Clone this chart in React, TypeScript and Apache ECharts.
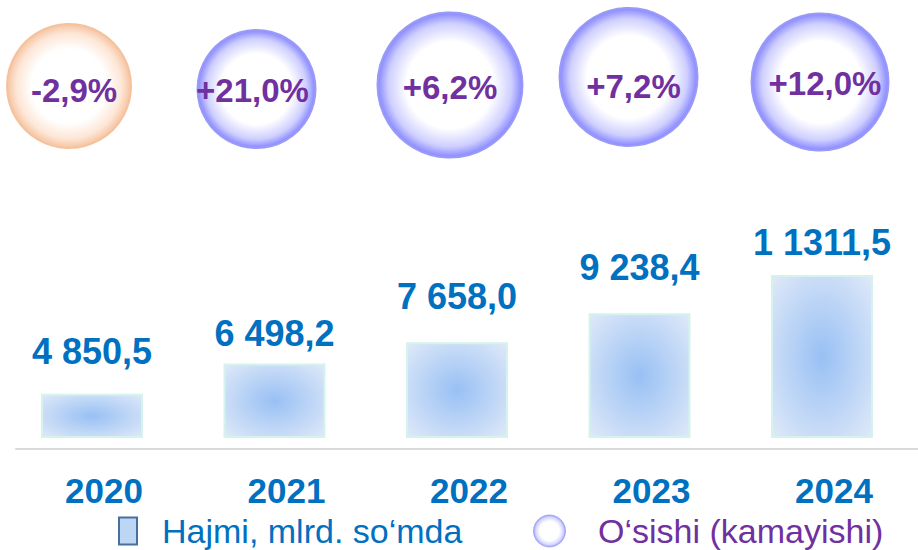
import React, { useEffect, useRef } from "react";
import * as echarts from "echarts";

const years = ["2020", "2021", "2022", "2023", "2024"];
const volumes = [4850.5, 6498.2, 7658.0, 9238.4, 11311.5];
const volumeLabels = ["4 850,5", "6 498,2", "7 658,0", "9 238,4", "1 1311,5"];
const growth = [-2.9, 21.0, 6.2, 7.2, 12.0];

const volumeName = "Hajmi, mlrd. so‘mda";
const growthName = "O‘sishi (kamayishi)";

// styling only
const bubbleSizes = [124, 118, 145, 138, 137];
const bubbleOffsets = [[-23, 1], [-18, 4], [-7, 0], [-11, -8], [-2, -3]];
const bubbleTextShift = [[5, 4], [-4, 1], [0, 2], [5, 9], [5, 1]];
const barLabelGaps = [24, 12, 28, 28, 15];

const FONT = "'Liberation Sans', Arial, sans-serif";
const BLUE = "#0070C0";
const PURPLE = "#7030A0";

function bubbleFill(neg: boolean) {
  const edge = neg ? "#f6c3a0" : "#8787ff";
  const mid = neg ? "#fde6d6" : "#cfcfff";
  return new echarts.graphic.RadialGradient(0.5, 0.5, 0.5, [
    { offset: 0, color: "#ffffff" },
    { offset: 0.6, color: "#ffffff" },
    { offset: 0.85, color: mid },
    { offset: 1, color: edge },
  ]);
}

export default function App() {
  const ref = useRef<HTMLDivElement>(null);
  useEffect(() => {
    if (!ref.current) return;
    const chart = echarts.init(ref.current, undefined, { renderer: "svg" });
    const barFill = new echarts.graphic.RadialGradient(0.5, 0.5, 0.7, [
      { offset: 0, color: "#98c0f4" },
      { offset: 1, color: "#dfe9f8" },
    ]);
    chart.setOption({
      animation: false,
      backgroundColor: "#ffffff",
      textStyle: { fontFamily: FONT },
      grid: [
        { left: 0.75, right: 4.75, top: 200, bottom: 113 },
        { left: 0.75, right: 4.75, top: 0, height: 170 },
        { left: 16, right: 0, top: 300, bottom: 101 },
      ],
      xAxis: [
        {
          type: "category",
          gridIndex: 0,
          data: years,
          axisLine: { show: false },
          axisTick: { show: false },
          axisLabel: {
            margin: 36,
            padding: [0, 0, 0, 24],
            color: BLUE,
            fontSize: 35,
            fontWeight: "bold",
            fontFamily: FONT,
          },
        },
        {
          type: "category",
          gridIndex: 1,
          data: years,
          show: false,
        },
        {
          type: "value",
          gridIndex: 2,
          min: 0,
          max: 1,
          axisLine: { show: true, onZero: false, lineStyle: { color: "#d9d9d9", width: 2 } },
          axisTick: { show: false },
          axisLabel: { show: false },
          splitLine: { show: false },
        },
      ],
      yAxis: [
        { type: "value", gridIndex: 0, min: 2500, max: 15400, show: false, splitLine: { show: false } },
        { type: "value", gridIndex: 1, min: 0, max: 1, show: false, splitLine: { show: false } },
        { type: "value", gridIndex: 2, min: 0, max: 1, show: false, splitLine: { show: false } },
      ],
      legend: [
        {
          selectedMode: false,
          left: 118,
          top: 514,
          padding: 0,
          itemWidth: 18,
          itemHeight: 27,
          data: [
            {
              name: volumeName,
              icon: "rect",
              itemStyle: { color: "#bcd6f6", borderColor: "#4a6f9a", borderWidth: 2 },
            },
          ],
          textStyle: { color: BLUE, fontSize: 34, fontFamily: FONT, padding: [0, 0, 0, 20] },
        },
        {
          selectedMode: false,
          left: 533,
          top: 514,
          padding: 0,
          itemWidth: 33,
          itemHeight: 32,
          data: [
            {
              name: growthName,
              icon: "circle",
              itemStyle: { color: bubbleFill(false), borderColor: "#9a9af8", borderWidth: 1 },
            },
          ],
          textStyle: { color: PURPLE, fontSize: 34, fontFamily: FONT, padding: [0, 0, 0, 27] },
        },
      ],
      series: [
        {
          name: volumeName,
          type: "bar",
          xAxisIndex: 0,
          yAxisIndex: 0,
          barWidth: 102,
          data: volumes.map((v, i) => ({
            value: v,
            label: { distance: barLabelGaps[i] },
          })),
          itemStyle: { color: barFill, borderColor: "#d3f3ec", borderWidth: 2 },
          label: {
            show: true,
            position: "top",
            color: BLUE,
            fontSize: 36,
            fontWeight: "bold",
            fontFamily: FONT,
            formatter: (p: any) => volumeLabels[p.dataIndex],
          },
        },
        {
          name: growthName,
          type: "scatter",
          xAxisIndex: 1,
          yAxisIndex: 1,
          symbol: "circle",
          data: growth.map((g, i) => ({
            value: [i, 0.5],
            symbolSize: bubbleSizes[i],
            symbolOffset: bubbleOffsets[i],
            label: { offset: bubbleTextShift[i] },
            itemStyle: {
              color: bubbleFill(g < 0),
              borderColor: g < 0 ? "#f5c29e" : "#9a9af8",
              borderWidth: 2,
              opacity: 1,
            },
          })),
          label: {
            show: true,
            position: "inside",
            color: PURPLE,
            fontSize: 33,
            fontWeight: "bold",
            fontFamily: FONT,
            formatter: (p: any) => {
              const g = growth[p.dataIndex];
              return (g > 0 ? "+" : "") + g.toFixed(1).replace(".", ",") + "%";
            },
          },
          emphasis: { disabled: true },
        },
      ],
    });
    return () => chart.dispose();
  }, []);
  return (
    <div
      ref={ref}
      style={{ position: "fixed", left: 0, top: 0, width: 918, height: 550 }}
    />
  );
}
